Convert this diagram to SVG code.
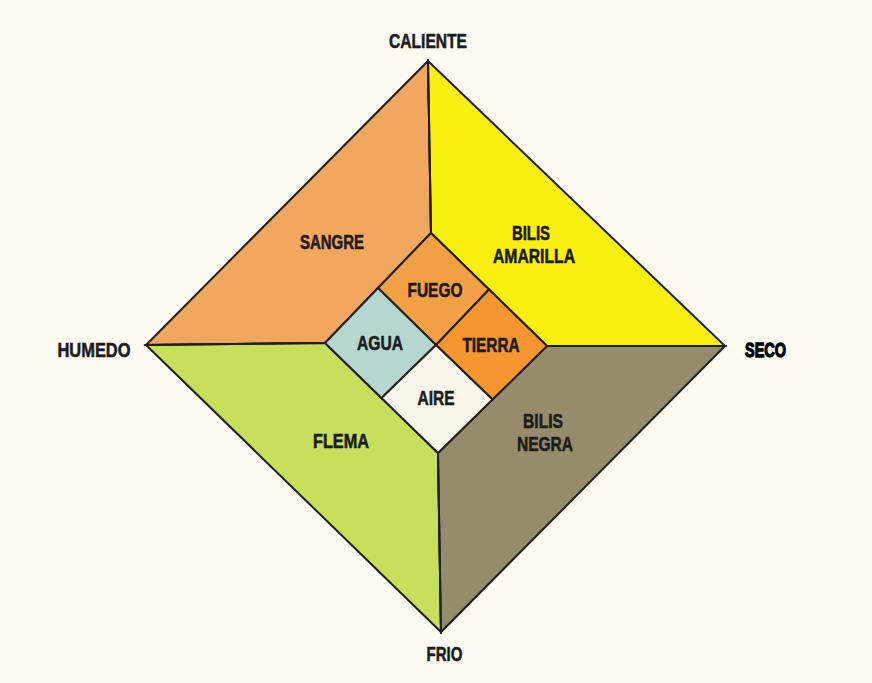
<svg xmlns="http://www.w3.org/2000/svg" width="872" height="683" viewBox="0 0 872 683">
<style>
.r{stroke:#1f1f1f;stroke-width:2;stroke-linejoin:miter}
.t{font-family:"Liberation Sans Narrow","Liberation Sans",Arial,sans-serif;font-weight:bold;font-size:21px;fill:#1c1c1c;stroke:#1c1c1c;stroke-width:0.6;text-anchor:middle}
.ln{stroke:#1f1f1f;stroke-width:2;fill:none}
</style>
<rect width="872" height="683" fill="#fdfaf2"/>
<g id="sangre"><polygon class="r" fill="#f2a75e" points="428,61 431,233 325,343 146,345"/><text class="t" x="332" y="249" textLength="64" lengthAdjust="spacingAndGlyphs">SANGRE</text></g>
<g id="bilis-amarilla"><polygon class="r" fill="#f9f010" points="428,61 725,346 547,346 431,233"/><text class="t" x="531" y="240" textLength="38" lengthAdjust="spacingAndGlyphs">BILIS</text><text class="t" x="534" y="262.5" textLength="82" lengthAdjust="spacingAndGlyphs">AMARILLA</text></g>
<g id="flema"><polygon class="r" fill="#c6e05c" points="146,345 325,343 438,453 441,632"/><text class="t" x="341" y="448" textLength="56" lengthAdjust="spacingAndGlyphs">FLEMA</text></g>
<g id="bilis-negra"><polygon class="r" fill="#968c6b" points="725,346 441,632 438,453 547,346"/><text class="t" x="543" y="428" textLength="40" lengthAdjust="spacingAndGlyphs">BILIS</text><text class="t" x="545" y="450.5" textLength="56" lengthAdjust="spacingAndGlyphs">NEGRA</text></g>
<g id="fuego"><polygon class="r" fill="#f4a045" points="431,233 489,289.5 436,345 378,288"/><text class="t" x="435" y="296.5" textLength="55" lengthAdjust="spacingAndGlyphs">FUEGO</text></g>
<g id="tierra"><polygon class="r" fill="#f6962e" points="489,289.5 547,346 492.5,399.5 436,345"/><text class="t" x="491" y="351.5" textLength="57" lengthAdjust="spacingAndGlyphs">TIERRA</text></g>
<g id="agua"><polygon class="r" fill="#b6d7cf" points="378,288 436,345 381.5,398 325,343"/><text class="t" x="380" y="350" textLength="46" lengthAdjust="spacingAndGlyphs">AGUA</text></g>
<g id="aire"><polygon class="r" fill="#fbf6ea" points="436,345 492.5,399.5 438,453 381.5,398"/><text class="t" x="436" y="405" textLength="37" lengthAdjust="spacingAndGlyphs">AIRE</text></g>
<g id="connectors">
<line class="ln" x1="428" y1="61" x2="431" y2="233"/>
<line class="ln" x1="146" y1="345" x2="325" y2="343"/>
<line class="ln" x1="725" y1="346" x2="547" y2="346"/>
<line class="ln" x1="441" y1="632" x2="438" y2="453"/>
</g>
<g id="caliente"><text class="t" x="428" y="47.5" textLength="78" lengthAdjust="spacingAndGlyphs">CALIENTE</text></g>
<g id="humedo"><text class="t" x="94" y="356.5" textLength="73" lengthAdjust="spacingAndGlyphs">HUMEDO</text></g>
<g id="seco"><text class="t" x="765.5" y="356.5" textLength="41" lengthAdjust="spacingAndGlyphs" style="fill:#000;stroke:#000;stroke-width:1.3">SECO</text></g>
<g id="frio"><text class="t" x="444.5" y="660.5" textLength="36" lengthAdjust="spacingAndGlyphs">FRIO</text></g>
</svg>
